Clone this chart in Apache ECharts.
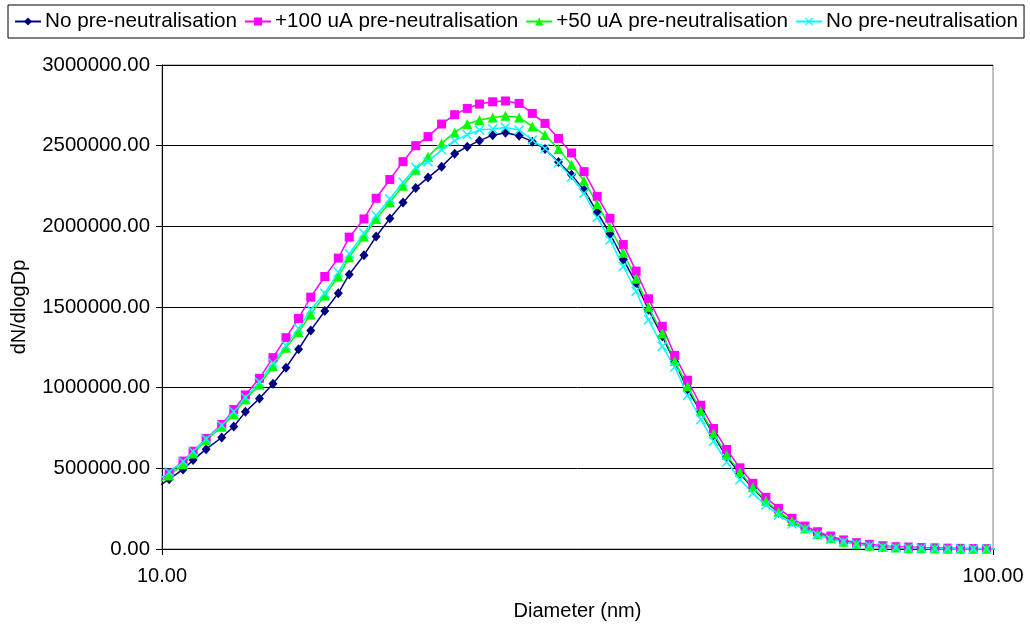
<!DOCTYPE html>
<html>
<head>
<meta charset="utf-8">
<script src="https://cdn.jsdelivr.net/npm/echarts@6/dist/echarts.min.js"></script>
<style>
html,body{margin:0;padding:0;background:#fff;}
#chart{width:1030px;height:626px;}
</style>
</head>
<body>
<div id="chart"></div>
<script>
// Diameters (nm) – SMPS channel midpoints (first and last lie just outside the axis range)
const diameters = [9.82, 10.2, 10.6, 10.9, 11.3, 11.8, 12.2, 12.6, 13.1, 13.6, 14.1, 14.6, 15.1, 15.7, 16.3, 16.8, 17.5, 18.1, 18.8, 19.5, 20.2, 20.9, 21.7, 22.5, 23.3, 24.1, 25.0, 25.9, 26.9, 27.9, 28.9, 30.0, 31.1, 32.2, 33.4, 34.6, 35.9, 37.2, 38.5, 40.0, 41.4, 42.9, 44.5, 46.1, 47.8, 49.6, 51.4, 53.3, 55.2, 57.3, 59.4, 61.5, 63.8, 66.1, 68.5, 71.0, 73.7, 76.4, 79.1, 82.0, 85.1, 88.2, 91.4, 94.7, 98.2, 101.8];

// Legend labels (the 4th repeats the 1st; a trailing space keeps the two series distinct, trimmed on display)
const seriesNames = ["No pre-neutralisation", "+100 uA pre-neutralisation", "+50 uA pre-neutralisation", "No pre-neutralisation "];

const noPreA = [375000, 433000, 493000, 551000, 619000, 691000, 759000, 850000, 933000, 1025000, 1124000, 1238000, 1355000, 1475000, 1586000, 1702000, 1821000, 1937000, 2048000, 2147000, 2238000, 2302000, 2370000, 2450000, 2494000, 2531000, 2565000, 2580000, 2562000, 2525000, 2480000, 2398000, 2319000, 2226000, 2087000, 1954000, 1795000, 1648000, 1483000, 1318000, 1159000, 990000, 850000, 705000, 571000, 468000, 376000, 293000, 225000, 169000, 128000, 97000, 72000, 50000, 35000, 20000, 14000, 10000, 7000, 5000, 4000, 3000, 2000, 1500, 1000, 800];

const plus100 = [410000, 470000, 545000, 606000, 685000, 772000, 864000, 955000, 1058000, 1186000, 1310000, 1429000, 1561000, 1689000, 1803000, 1933000, 2046000, 2174000, 2290000, 2401000, 2500000, 2556000, 2634000, 2692000, 2731000, 2758000, 2772000, 2777000, 2762000, 2700000, 2638000, 2545000, 2455000, 2339000, 2186000, 2050000, 1887000, 1722000, 1551000, 1380000, 1200000, 1046000, 891000, 747000, 617000, 503000, 407000, 320000, 252000, 190000, 142000, 107000, 80000, 56000, 39000, 29000, 20000, 14000, 12000, 9000, 7000, 5000, 4000, 3000, 2000, 1500];

const plus50 = [395000, 455000, 526000, 592000, 674000, 757000, 835000, 928000, 1018000, 1132000, 1248000, 1345000, 1454000, 1572000, 1689000, 1809000, 1937000, 2046000, 2149000, 2252000, 2350000, 2432000, 2514000, 2582000, 2634000, 2659000, 2675000, 2686000, 2675000, 2619000, 2566000, 2480000, 2382000, 2283000, 2139000, 1994000, 1836000, 1675000, 1499000, 1335000, 1165000, 1009000, 856000, 716000, 582000, 478000, 382000, 299000, 231000, 173000, 128000, 93000, 68000, 45000, 31000, 20000, 14000, 10000, 5000, 4000, 3000, 2000, 1500, 1000, 1000, 800];

const noPreB = [415000, 478000, 543000, 605000, 682000, 767000, 852000, 939000, 1035000, 1153000, 1262000, 1366000, 1485000, 1586000, 1716000, 1830000, 1957000, 2067000, 2170000, 2273000, 2365000, 2401000, 2475000, 2531000, 2568000, 2597000, 2603000, 2613000, 2597000, 2535000, 2483000, 2393000, 2304000, 2205000, 2056000, 1916000, 1751000, 1598000, 1421000, 1256000, 1128000, 953000, 803000, 668000, 540000, 431000, 345000, 272000, 210000, 155000, 124000, 87000, 60000, 45000, 29000, 19000, 13000, 9000, 6000, 4000, 3000, 2000, 1500, 1000, 800, 600];

const yTicks = {min: 0, max: 3000000, interval: 500000};
const xRange = {min: 10, max: 100};

const colors = ["#000080", "#FF00FF", "#00FF00", "#00FFFF"];
const crossPath = "path://M0,1L1,0L5,4L9,0L10,1L6,5L10,9L9,10L5,6L1,10L0,9L4,5Z";
const symbols = ["diamond", "rect", "triangle", crossPath];
const symbolSizes = [[9, 10], 9, 10, 10];
const allValues = [noPreA, plus100, plus50, noPreB];

const FONT = "'Liberation Sans', Arial, sans-serif";

function buildData(vals) {
  return diameters.map((d, i) => {
    const item = {value: [d, vals[i]]};
    if (d < xRange.min || d > xRange.max) item.symbol = "none";
    return item;
  });
}

const chart = echarts.init(document.getElementById('chart'), null, {renderer: 'canvas'});
const option = {
  backgroundColor: '#ffffff',
  animation: false,
  textStyle: {fontFamily: FONT, color: '#000'},
  legend: {
    left: 8, top: 5,
    padding: [6, 6, 6, 6],
    borderColor: '#000', borderWidth: 1,
    itemGap: 7, itemWidth: 26, itemHeight: 10,
    formatter: name => name.trim(),
    textStyle: {fontFamily: FONT, fontSize: 20.7, color: '#000', padding: [0, 0, 0, -1]},
    data: seriesNames.map(n => ({name: n}))
  },
  grid: {
    left: 162, right: 37, top: 65, bottom: 77,
    show: true, borderColor: '#808080', borderWidth: 1, backgroundColor: 'transparent'
  },
  xAxis: {
    type: 'log', logBase: 10, min: xRange.min, max: xRange.max,
    name: 'Diameter (nm)', nameLocation: 'middle', nameGap: 52,
    nameTextStyle: {fontFamily: FONT, fontSize: 20, color: '#000'},
    axisLine: {lineStyle: {color: '#000', width: 1}},
    axisTick: {show: true, length: 6, lineStyle: {color: '#000'}},
    axisLabel: {fontFamily: FONT, fontSize: 20, color: '#000', margin: 17,
      formatter: v => Number(v).toFixed(2)},
    splitLine: {show: false},
    minorTick: {show: false}
  },
  yAxis: {
    type: 'value', min: yTicks.min, max: yTicks.max, interval: yTicks.interval,
    name: 'dN/dlogDp', nameLocation: 'middle', nameGap: 133, nameRotate: 90,
    nameTextStyle: {fontFamily: FONT, fontSize: 20, color: '#000'},
    axisLine: {show: true, lineStyle: {color: '#000', width: 1}},
    axisTick: {show: true, length: 6, lineStyle: {color: '#000'}},
    axisLabel: {fontFamily: FONT, fontSize: 20.4, color: '#000', margin: 12,
      formatter: v => Number(v).toFixed(2)},
    splitLine: {show: true, lineStyle: {color: '#000', width: 1}}
  },
  series: allValues.map((vals, i) => ({
    name: seriesNames[i],
    type: 'line',
    data: buildData(vals),
    symbol: symbols[i],
    symbolSize: symbolSizes[i],
    showAllSymbol: true,
    clip: false,
    color: colors[i],
    lineStyle: {color: colors[i], width: 1.5},
    itemStyle: {color: colors[i], borderWidth: 0},
    emphasis: {disabled: true}
  }))
};
chart.setOption(option);
</script>
</body>
</html>
